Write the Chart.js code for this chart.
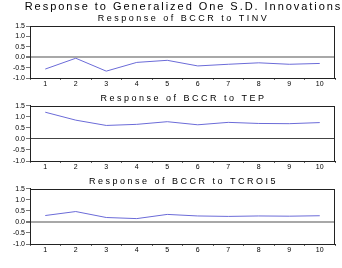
<!DOCTYPE html>
<html>
<head>
<meta charset="utf-8">
<script src="https://cdn.jsdelivr.net/npm/chart.js@4.4.1/dist/chart.umd.min.js"></script>
<style>
  body { margin: 0; background: #fff; width: 342px; height: 268px; overflow: hidden; }
  .panel { position: absolute; left: 0; width: 342px; }
</style>
</head>
<body>
<div class="panel" style="top:0;height:90px"><canvas id="c1"></canvas></div>
<div class="panel" style="top:90px;height:83px"><canvas id="c2"></canvas></div>
<div class="panel" style="top:173px;height:83px"><canvas id="c3"></canvas></div>
<script>
// periods after the shock
const periods = ['1', '2', '3', '4', '5', '6', '7', '8', '9', '10'];
const yTicks = [-1.0, -0.5, 0.0, 0.5, 1.0, 1.5];

// responses of BCCR
const tinv = [-0.57, -0.05, -0.67, -0.25, -0.15, -0.42, -0.34, -0.27, -0.34, -0.30];
const tep = [1.21, 0.85, 0.61, 0.66, 0.78, 0.64, 0.75, 0.70, 0.69, 0.74];
const tcroi5 = [0.29, 0.47, 0.20, 0.15, 0.34, 0.27, 0.25, 0.27, 0.26, 0.28];

const mainTitle = 'Response to Generalized One S.D. Innovations';
const panelTitles = ['Response of BCCR to TINV', 'Response of BCCR to TEP', 'Response of BCCR to TCROI5'];

const FONT = "'Liberation Sans', Arial, sans-serif";
const LINE = '#6b6bd8';

// wide letter spacing like the original output, set per box when drawn;
// titles are centred over the plot area rather than the whole canvas
// (title elements have no id, so they are told apart by their text option)
const spacing = {
  id: 'spacing',
  beforeDraw(chart) {
    chart.boxes.forEach(box => {
      if (box._spaced) return;
      const orig = box.draw;
      box.draw = function (area) {
        const ctx = this.ctx;
        const text = this.options && this.options.text;
        const isTitle = typeof text === 'string' && !this.axis;
        ctx.save();
        if (isTitle && text === mainTitle) ctx.letterSpacing = '1.95px';
        else if (isTitle) ctx.letterSpacing = '2.5px';
        else ctx.letterSpacing = '2.2px';
        if (isTitle) {
          const a = chart.chartArea;
          ctx.translate((a.left + a.right) / 2 - (this.left + this.right) / 2 + 1, 0);
        }
        orig.call(this, area);
        ctx.restore();
      };
      box._spaced = true;
    });
  }
};

// box around the plot area
const frame = {
  id: 'frame',
  afterDraw(chart) {
    const { ctx, chartArea: a } = chart;
    ctx.save();
    ctx.strokeStyle = '#222';
    ctx.lineWidth = 1;
    ctx.strokeRect(Math.round(a.left) + 0.5, Math.round(a.top) + 0.5,
      Math.round(a.right - a.left) - 1, Math.round(a.bottom - a.top));
    ctx.restore();
  }
};

function makePanel(id, values, subTitle, withMain, topPad, zeroColor, zeroWidth) {
  const plugins = {
    legend: { display: false },
    tooltip: { enabled: false },
    title: withMain
      ? { display: true, text: mainTitle, color: '#000', font: { family: FONT, size: 11, weight: 'normal' }, padding: { top: 0, bottom: 0 } }
      : { display: true, text: subTitle, color: '#000', font: { family: FONT, size: 9, weight: 'normal' }, padding: { top: topPad, bottom: 2 } },
    subtitle: withMain
      ? { display: true, text: subTitle, color: '#000', font: { family: FONT, size: 9, weight: 'normal' }, padding: { top: 0, bottom: 2 } }
      : { display: false }
  };
  new Chart(document.getElementById(id), {
    type: 'line',
    data: {
      labels: periods,
      datasets: [{
        data: values,
        borderColor: LINE,
        borderWidth: 1,
        pointRadius: 0,
        tension: 0,
        fill: false
      }]
    },
    options: {
      responsive: true,
      maintainAspectRatio: false,
      animation: false,
      devicePixelRatio: 1,
      layout: { padding: { left: 0, right: 7, top: 0, bottom: 0 } },
      plugins,
      scales: {
        x: {
          offset: true,
          grid: { display: true, offset: true, drawOnChartArea: false, tickLength: 2, color: '#666' },
          border: { display: true, color: '#222' },
          ticks: { color: '#000', font: { family: FONT, size: 7 }, padding: 0, maxRotation: 0, autoSkip: false },
          afterFit(s) { s.height = 12; }
        },
        y: {
          min: -1.0,
          max: 1.5,
          afterBuildTicks(s) { s.ticks = yTicks.map(v => ({ value: v })); },
          grid: {
            drawOnChartArea: true,
            tickLength: 4,
            tickColor: '#777',
            color: c => (c.tick && c.tick.value === 0 ? zeroColor : 'rgba(0,0,0,0)'),
            lineWidth: c => (c.tick && c.tick.value === 0 ? zeroWidth : 1)
          },
          border: { display: true, color: '#222' },
          ticks: {
            color: '#000',
            font: { family: FONT, size: 7 },
            padding: 1,
            autoSkip: false,
            callback: v => v.toFixed(1)
          },
          afterFit(s) { s.width = 30; }
        }
      }
    },
    plugins: [spacing, frame]
  });
}

makePanel('c1', tinv, panelTitles[0], true, 0, '#a8a8a8', 2);
makePanel('c2', tep, panelTitles[1], false, 3, '#444', 1);
makePanel('c3', tcroi5, panelTitles[2], false, 3, '#a8a8a8', 2);
</script>
</body>
</html>
